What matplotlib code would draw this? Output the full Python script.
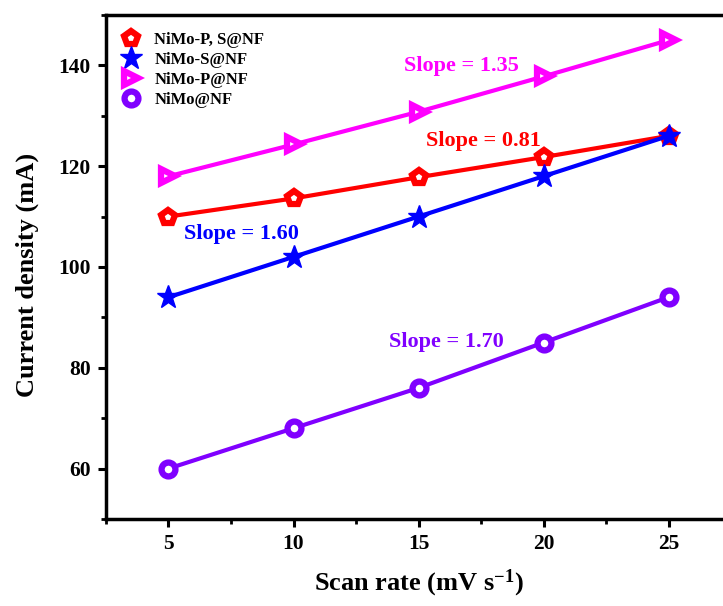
import matplotlib
matplotlib.use('Agg')
import matplotlib.pyplot as plt
from matplotlib.ticker import MultipleLocator

plt.rcParams['font.family'] = 'Liberation Serif'
plt.rcParams['font.weight'] = 'bold'
plt.rcParams['mathtext.fontset'] = 'custom'
plt.rcParams['mathtext.rm'] = 'Liberation Serif:bold'
plt.rcParams['mathtext.it'] = 'Liberation Serif:bold'
plt.rcParams['mathtext.bf'] = 'Liberation Serif:bold'

scan_rate = [5, 10, 15, 20, 25]
nimo_ps = [110, 113.6, 117.8, 121.8, 126]
nimo_s = [94, 102, 110, 118, 126]
nimo_p = [118, 124.3, 130.8, 137.8, 145]
nimo = [60, 68, 76, 85, 94]

labels = ['NiMo-P, S@NF', 'NiMo-S@NF', 'NiMo-P@NF', 'NiMo@NF']
colors = ['#ff0000', '#0000ff', '#ff00ff', '#8000ff']
markers = ['p', '*', '>', 'o']
slopes = ['Slope = 0.81', 'Slope = 1.60', 'Slope = 1.35', 'Slope = 1.70']
slope_pos = [(17.6, 124.9), (7.9, 106.5), (16.7, 139.8), (16.1, 85.2)]

fig = plt.figure(figsize=(7.23, 6.06), dpi=100)
ax = fig.add_axes([0.1466, 0.1436, 0.8645, 0.8317])

series = [nimo_ps, nimo_s, nimo_p, nimo]
for y, lab, c, m in zip(series, labels, colors, markers):
    if m == '*':
        ax.plot(scan_rate, y, color=c, lw=3, marker=m, ms=17, mfc=c, mec=c,
                label=lab)
    else:
        ax.plot(scan_rate, y, color=c, lw=3, marker=m, ms=10, mfc='white',
                mec=c, mew=4.5, label=lab)

for (tx, ty), s, c in zip(slope_pos, slopes, colors):
    ax.text(tx, ty, s, color=c, fontsize=16, fontweight='bold',
            ha='center', va='center')

ax.set_xlim(2.5, 27.5)
ax.set_ylim(50, 150)
ax.xaxis.set_major_locator(MultipleLocator(5))
ax.xaxis.set_minor_locator(MultipleLocator(2.5))
ax.yaxis.set_major_locator(MultipleLocator(20))
ax.yaxis.set_minor_locator(MultipleLocator(10))
ax.set_yticks([60, 80, 100, 120, 140])
ax.tick_params(which='major', direction='out', length=6, width=2.2,
               labelsize=15.5, pad=5)
ax.tick_params(which='minor', direction='out', length=3.5, width=2)
for sp in ax.spines.values():
    sp.set_linewidth(2.5)

ax.set_xlabel(r'Scan rate (mV s$^{-1}$)', fontsize=19, fontweight='bold',
              labelpad=10)
ax.set_ylabel('Current density (mA)', fontsize=19, fontweight='bold')
ax.yaxis.set_label_coords(-0.107, 0.485)

leg = ax.legend(loc='upper left', frameon=False,
                handlelength=1.0, handletextpad=0.9, labelspacing=0.25,
                borderaxespad=0.6, prop={'weight': 'bold', 'size': 12})
for h in leg.legend_handles:
    h.set_linestyle('None')

fig.savefig('out.png', dpi=100)
